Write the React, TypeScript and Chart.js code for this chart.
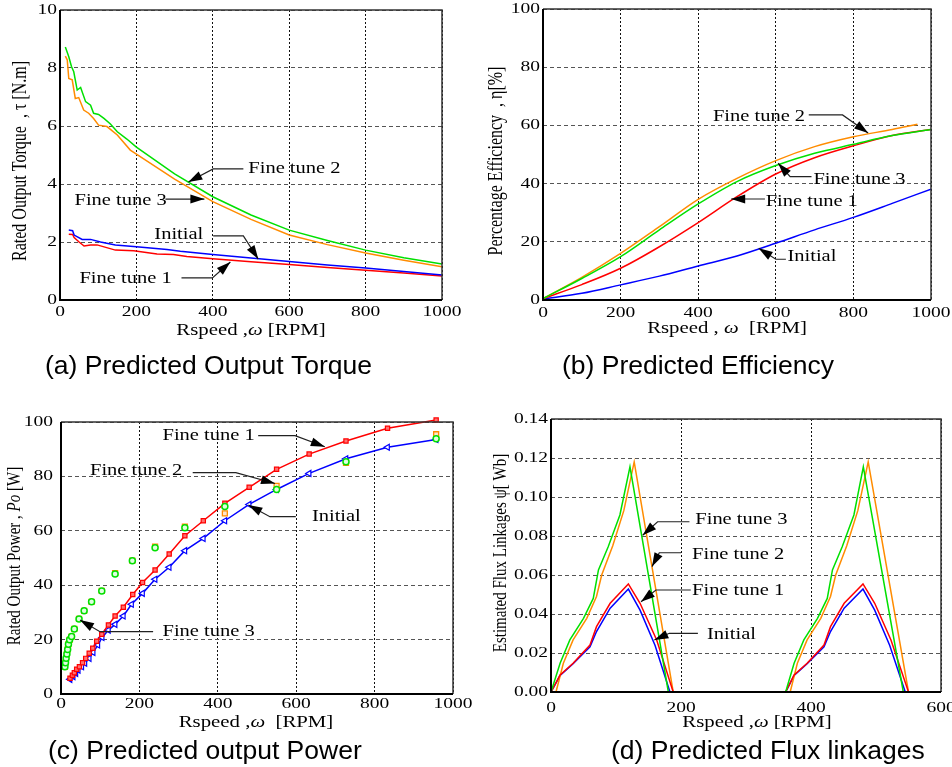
import React, { useEffect, useRef } from "react";
import { Chart, registerables } from "chart.js";
Chart.register(...registerables);

const SERIF = '"Liberation Serif", "Times New Roman", Times, serif';
const SANS = '"Liberation Sans", Arial, Helvetica, sans-serif';
const RED = "#ff0000";
const BLUE = "#0000ff";
const GREEN = "#00e000";
const ORANGE = "#ff8c00";

// ---------- (a) Predicted Output Torque ----------
const aSpeedFT2 = [14, 23, 30, 36, 45, 54, 67, 80, 88, 101, 115, 132, 150, 175, 200, 300, 400, 500, 600, 700, 800, 900, 1000];
const aTorqueFT2 = [8.72, 8.39, 8.05, 7.87, 7.24, 7.33, 6.84, 6.72, 6.44, 6.4, 6.26, 6.07, 5.8, 5.55, 5.27, 4.35, 3.56, 2.93, 2.41, 2.05, 1.72, 1.46, 1.24];
const aSpeedFT3 = [14, 19, 23, 32, 40, 49, 62, 75, 88, 101, 123, 150, 184, 200, 300, 400, 500, 600, 700, 800, 900, 1000];
const aTorqueFT3 = [8.41, 8.28, 7.64, 7.59, 6.95, 6.98, 6.55, 6.44, 6.26, 6.03, 5.98, 5.69, 5.17, 5.03, 4.17, 3.39, 2.78, 2.24, 1.91, 1.62, 1.37, 1.15];
const aSpeedInitial = [23, 33, 37, 58, 80, 106, 145, 200, 280, 315, 400, 500, 600, 700, 800, 900, 1000];
const aTorqueInitial = [2.41, 2.39, 2.24, 2.09, 2.09, 2.0, 1.9, 1.84, 1.74, 1.68, 1.57, 1.45, 1.33, 1.21, 1.1, 0.98, 0.86];
const aSpeedFT1 = [23, 33, 37, 50, 63, 80, 97, 145, 193, 254, 297, 332, 400, 500, 600, 700, 800, 900, 1000];
const aTorqueFT1 = [2.27, 2.26, 2.15, 2.0, 1.86, 1.9, 1.9, 1.72, 1.7, 1.59, 1.57, 1.5, 1.42, 1.32, 1.22, 1.12, 1.03, 0.93, 0.83];

// ---------- (b) Predicted Efficiency ----------
const bSpeed = [0, 100, 200, 300, 400, 500, 600, 700, 800, 900, 1000];
const bSpeedFT2 = [0, 100, 200, 300, 400, 500, 600, 700, 800, 900, 965];
const bEffFT2 = [0.5, 7.8, 16.0, 25.2, 34.6, 41.8, 47.9, 52.7, 56.1, 58.6, 60.4];
const bEffFT3 = [0.5, 7.4, 14.9, 24.1, 33.0, 40.7, 46.2, 50.4, 53.5, 56.5, 58.6];
const bEffFT1 = [0.5, 5.3, 10.9, 18.3, 26.6, 35.5, 43.3, 48.9, 53.0, 56.5, 58.6];
const bEffInitial = [0.3, 2.3, 5.2, 8.2, 11.7, 15.1, 19.5, 24.1, 28.4, 33.2, 38.1];

// ---------- (c) Predicted output Power ----------
const cSpeedFT1 = [23, 29, 34, 40, 47, 55, 63, 72, 81, 91, 104, 121, 138, 159, 183, 208, 240, 276, 316, 363, 418, 480, 550, 633, 727, 833, 957];
const cPowerFT1 = [5.8, 6.9, 7.8, 9.1, 10.0, 11.5, 13.1, 15.0, 16.8, 19.4, 22.0, 25.4, 28.7, 31.9, 36.6, 41.0, 45.6, 51.5, 58.2, 63.7, 70.1, 76.0, 82.6, 88.2, 93.0, 97.7, 100.7];
const cSpeedInitial = [23, 31, 38, 44, 53, 61, 72, 82, 94, 105, 121, 138, 159, 180, 208, 240, 276, 316, 363, 418, 480, 550, 633, 727, 833, 957];
const cPowerInitial = [5.4, 6.4, 7.6, 8.8, 10.0, 11.3, 13.1, 15.3, 18.0, 20.8, 23.5, 25.6, 28.7, 33.0, 37.0, 42.2, 46.6, 52.7, 57.2, 63.7, 69.7, 75.2, 81.1, 86.5, 90.7, 93.6];
const cSpeedTuned = [10, 11.5, 13, 15, 17, 19, 22, 27, 34, 46, 59, 78, 104, 138, 182, 240, 316, 418, 550, 727, 957];
const cPowerFT3 = [10.0, 11.5, 13.1, 14.7, 16.4, 18.3, 19.9, 21.1, 23.9, 27.6, 30.6, 33.9, 37.9, 44.1, 49.0, 53.8, 61.1, 68.9, 75.2, 85.4, 93.8];
const cPowerFT2 = [10.0, 11.5, 13.1, 14.7, 16.4, 18.3, 19.9, 21.1, 23.9, 27.6, 30.6, 33.9, 37.9, 44.4, 49.0, 54.2, 61.5, 66.4, 76.5, 85.0, 95.5];

// ---------- (d) Predicted Flux linkages ----------
const dSpeedFT3 = [0, 14, 29, 50, 65, 73, 88, 106, 121.5, 180.5, 361, 374, 389, 410, 425, 433, 448, 466, 480.5, 542, 600];
const dFluxFT3 = [0, 0.0147, 0.0267, 0.0378, 0.048, 0.0626, 0.0745, 0.0908, 0.1155, 0, 0, 0.0147, 0.0267, 0.0378, 0.048, 0.0626, 0.0745, 0.0908, 0.1155, 0, 0];
const dSpeedFT2 = [0, 7.7, 19, 34, 55, 70, 78, 95, 112, 128, 188, 368, 379, 394, 415, 430, 438, 455, 472, 488, 550, 605];
const dFluxFT2 = [0, 0, 0.0147, 0.0267, 0.0378, 0.049, 0.06, 0.075, 0.093, 0.118, 0, 0, 0.0147, 0.0267, 0.0378, 0.049, 0.06, 0.075, 0.093, 0.118, 0, 0];
const dSpeedFT1 = [0, 14, 34, 60, 70, 91, 119, 137, 162.6, 188, 361, 374, 394, 420, 430, 451, 480, 498, 523, 550, 600];
const dFluxFT1 = [0, 0.0087, 0.0147, 0.0241, 0.0335, 0.0455, 0.0554, 0.0455, 0.0267, 0, 0, 0.0087, 0.0147, 0.0241, 0.0335, 0.0455, 0.0554, 0.0455, 0.0267, 0, 0];
const dSpeedInitial = [0, 14, 34, 60, 70, 91, 119, 137, 160, 183, 361, 374, 394, 420, 430, 451, 480, 498, 521, 545, 600];
const dFluxInitial = [0, 0.0085, 0.0145, 0.0232, 0.031, 0.043, 0.0528, 0.042, 0.024, 0, 0, 0.0085, 0.0145, 0.0232, 0.031, 0.043, 0.0528, 0.042, 0.024, 0, 0];

type Seg = { t: string; i?: boolean };
type Anno = { text: string; tx: number; ty: number; path: number[][] };

const pts = (xs: number[], ys: number[]) => xs.map((x, i) => ({ x, y: ys[i] }));

const line = (label: string, data: any[], color: string, extra: any = {}) => ({
  label,
  data,
  borderColor: color,
  backgroundColor: color,
  borderWidth: 1.5,
  pointRadius: 0,
  showLine: true,
  fill: false,
  tension: 0,
  ...extra,
});

function drawSegs(
  ctx: CanvasRenderingContext2D,
  segs: Seg[],
  x: number,
  y: number,
  o: { size: number; family?: string; align?: string; baseline?: CanvasTextBaseline; sx?: number; rotate?: boolean }
) {
  const fam = o.family || SERIF;
  const fontOf = (s: Seg) => `${s.i ? "italic " : ""}${o.size}px ${fam}`;
  ctx.save();
  const widths = segs.map((s) => {
    ctx.font = fontOf(s);
    return ctx.measureText(s.t).width;
  });
  const total = widths.reduce((a, b) => a + b, 0);
  ctx.translate(x, y);
  if (o.rotate) {
    ctx.rotate(-Math.PI / 2);
    ctx.scale(1, o.sx ?? 1);
  } else {
    ctx.scale(o.sx ?? 1, 1);
  }
  let cx = o.align === "center" ? -total / 2 : o.align === "right" ? -total : 0;
  ctx.textAlign = "left";
  ctx.textBaseline = o.baseline || "alphabetic";
  ctx.fillStyle = "#000";
  segs.forEach((s, k) => {
    ctx.font = fontOf(s);
    ctx.fillText(s.t, cx, 0);
    cx += widths[k];
  });
  ctx.restore();
}

interface Panel {
  area: [number, number, number, number];
  xr: [number, number, number];
  yr: [number, number, number];
  yFmt: (v: number) => string;
  datasets: any[];
  xTitle: Seg[];
  xTitlePos: [number, number];
  yTitle: Seg[];
  yTitleSize: number;
  yTitlePos: [number, number];
  xTickBase: number;
  yTickRight: number;
  annos: Anno[];
  caption: string;
  capPos: [number, number];
}

const X_TITLE_A: Seg[] = [{ t: "Rspeed ," }, { t: "ω", i: true }, { t: " [RPM]" }];

const panels: Panel[] = [
  {
    area: [60, 10, 442, 300],
    xr: [0, 1000, 200],
    yr: [0, 10, 2],
    yFmt: (v) => String(Math.round(v)),
    datasets: [
      line("Fine tune 2", pts(aSpeedFT2, aTorqueFT2), GREEN),
      line("Fine tune 3", pts(aSpeedFT3, aTorqueFT3), ORANGE),
      line("Initial", pts(aSpeedInitial, aTorqueInitial), BLUE),
      line("Fine tune 1", pts(aSpeedFT1, aTorqueFT1), RED),
    ],
    xTitle: X_TITLE_A,
    xTitlePos: [251, 335],
    yTitle: [{ t: "Rated Output Torque  , τ [N.m]" }],
    yTitleSize: 16,
    yTitlePos: [21, 161],
    xTickBase: 316,
    yTickRight: 57,
    annos: [
      { text: "Fine tune 2", tx: 493, ty: 4.55, path: [[480, 4.52], [401, 4.52], [336, 4.07]] },
      { text: "Fine tune 3", tx: 38, ty: 3.45, path: [[276, 3.48], [378, 3.48]] },
      { text: "Initial", tx: 247, ty: 2.28, path: [[401, 2.21], [480, 2.21], [519, 1.41]] },
      { text: "Fine tune 1", tx: 51, ty: 0.76, path: [[318, 0.76], [399, 0.76], [446, 1.31]] },
    ],
    caption: "(a) Predicted Output Torque",
    capPos: [45, 374],
  },
  {
    area: [543, 9, 931, 300],
    xr: [0, 1000, 200],
    yr: [0, 100, 20],
    yFmt: (v) => String(Math.round(v)),
    datasets: [
      line("Fine tune 3", pts(bSpeed, bEffFT3), GREEN, { cubicInterpolationMode: "monotone" }),
      line("Fine tune 2", pts(bSpeedFT2, bEffFT2), ORANGE, { cubicInterpolationMode: "monotone" }),
      line("Fine tune 1", pts(bSpeed, bEffFT1), RED, { cubicInterpolationMode: "monotone" }),
      line("Initial", pts(bSpeed, bEffInitial), BLUE, { cubicInterpolationMode: "monotone" }),
    ],
    xTitle: [{ t: "Rspeed , " }, { t: "ω", i: true }, { t: "  [RPM]" }],
    xTitlePos: [727, 333],
    yTitle: [{ t: "Percentage Efficiency  , η[%]" }],
    yTitleSize: 16,
    yTitlePos: [497, 161],
    xTickBase: 317,
    yTickRight: 540,
    annos: [
      { text: "Fine tune 2", tx: 438, ty: 63.2, path: [[685, 63.6], [772, 63.6], [838, 57.4]] },
      { text: "Fine tune 3", tx: 697, ty: 41.5, path: [[692, 42.4], [637, 42.4], [606, 47]] },
      { text: "Fine tune 1", tx: 574, ty: 34.0, path: [[572, 34.7], [485, 34.7]] },
      { text: "Initial", tx: 630, ty: 15.1, path: [[626, 14], [600, 14], [556, 17.75]] },
    ],
    caption: "(b) Predicted Efficiency",
    capPos: [562, 374],
  },
  {
    area: [61, 422, 453, 694],
    xr: [0, 1000, 200],
    yr: [0, 100, 20],
    yFmt: (v) => String(Math.round(v)),
    datasets: [
      line("Fine tune 3", pts(cSpeedTuned, cPowerFT3), GREEN, {
        showLine: false, pointRadius: 3, pointStyle: "circle", pointBackgroundColor: "#dfffdf", pointBorderColor: GREEN, pointBorderWidth: 1.5, clip: 6,
      }),
      line("Fine tune 2", pts(cSpeedTuned, cPowerFT2), ORANGE, {
        showLine: false, pointRadius: 3.5, pointStyle: "rect", pointBackgroundColor: "#ffe6cc", pointBorderColor: ORANGE, pointBorderWidth: 1.3, clip: 6,
      }),
      line("Fine tune 1", pts(cSpeedFT1, cPowerFT1), RED, {
        pointRadius: 3, pointStyle: "rect", pointBackgroundColor: "#ff7070", pointBorderColor: RED, pointBorderWidth: 1.2, clip: 6,
      }),
      line("Initial", pts(cSpeedInitial, cPowerInitial), BLUE, {
        pointRadius: 3.5, pointStyle: "triangle", pointRotation: -90, pointBackgroundColor: "#ffffff", pointBorderColor: BLUE, pointBorderWidth: 1.2, clip: 6,
      }),
    ],
    xTitle: [{ t: "Rspeed ," }, { t: "ω", i: true }, { t: "  [RPM]" }],
    xTitlePos: [256, 727],
    yTitle: [{ t: "Rated Output Power , " }, { t: "Po", i: true }, { t: " [W]" }],
    yTitleSize: 15,
    yTitlePos: [15, 556],
    xTickBase: 708,
    yTickRight: 53,
    annos: [
      { text: "Fine tune 1", tx: 259, ty: 95.2, path: [[503, 95.0], [597, 95.0], [673, 90.9]] },
      { text: "Fine tune 2", tx: 74, ty: 82.4, path: [[336, 81.4], [446, 81.4], [546, 77.4]] },
      { text: "Initial", tx: 640, ty: 65.4, path: [[599, 65.2], [533, 65.2], [478, 69.5]] },
      { text: "Fine tune 3", tx: 259, ty: 23.3, path: [[235, 22.9], [99.5, 22.9], [48.5, 27.2]] },
    ],
    caption: "(c) Predicted output Power",
    capPos: [48, 759],
  },
  {
    area: [551, 419, 941, 692],
    xr: [0, 600, 200],
    yr: [0, 0.14, 0.02],
    yFmt: (v) => v.toFixed(2),
    datasets: [
      line("Fine tune 3", pts(dSpeedFT3, dFluxFT3), GREEN),
      line("Fine tune 1", pts(dSpeedFT1, dFluxFT1), RED),
      line("Fine tune 2", pts(dSpeedFT2, dFluxFT2), ORANGE),
      line("Initial", pts(dSpeedInitial, dFluxInitial), BLUE),
    ],
    xTitle: X_TITLE_A,
    xTitlePos: [757, 727],
    yTitle: [{ t: "Estimated Flux Linkages ψ[ Wb]" }],
    yTitleSize: 15,
    yTitlePos: [501, 553],
    xTickBase: 712,
    yTickRight: 548,
    annos: [
      { text: "Fine tune 3", tx: 222, ty: 0.0887, path: [[213, 0.0873], [164, 0.0873], [141, 0.0804]] },
      { text: "Fine tune 2", tx: 217, ty: 0.0711, path: [[200, 0.0714], [166.6, 0.0714], [155.4, 0.0643]] },
      { text: "Fine tune 1", tx: 217, ty: 0.0523, path: [[215, 0.0523], [161.5, 0.0523], [138.5, 0.0463]] },
      { text: "Initial", tx: 240, ty: 0.0301, path: [[226, 0.0301], [182, 0.0301], [159, 0.0267]] },
    ],
    caption: "(d) Predicted Flux linkages",
    capPos: [611, 759],
  },
];

function decorPlugin(p: Panel) {
  return {
    id: "decor",
    afterDraw(chart: any) {
      const ctx: CanvasRenderingContext2D = chart.ctx;
      const { left, top, right, bottom } = chart.chartArea;
      const xs = chart.scales.x;
      const ys = chart.scales.y;
      // frame
      ctx.save();
      ctx.strokeStyle = "#333";
      ctx.lineWidth = 1.5;
      ctx.beginPath();
      ctx.moveTo(left, top);
      ctx.lineTo(right, top);
      ctx.lineTo(right, bottom);
      ctx.stroke();
      ctx.strokeStyle = "#000";
      ctx.lineWidth = 2;
      ctx.beginPath();
      ctx.moveTo(left, top);
      ctx.lineTo(left, bottom);
      ctx.lineTo(right, bottom);
      ctx.stroke();
      ctx.restore();
      // tick labels
      xs.ticks.forEach((t: any) =>
        drawSegs(ctx, [{ t: String(Math.round(t.value)) }], xs.getPixelForValue(t.value), p.xTickBase, { size: 15, align: "center", sx: 1.3 })
      );
      ys.ticks.forEach((t: any) =>
        drawSegs(ctx, [{ t: p.yFmt(t.value) }], p.yTickRight, ys.getPixelForValue(t.value), { size: 15, align: "right", baseline: "middle", sx: 1.3 })
      );
      // axis titles
      drawSegs(ctx, p.xTitle, p.xTitlePos[0], p.xTitlePos[1], { size: 16, align: "center", sx: 1.3 });
      drawSegs(ctx, p.yTitle, p.yTitlePos[0], p.yTitlePos[1], { size: p.yTitleSize, align: "center", baseline: "middle", sx: 1.3, rotate: true });
      // annotations
      p.annos.forEach((a) => {
        const P = a.path.map(([vx, vy]) => [xs.getPixelForValue(vx), ys.getPixelForValue(vy)]);
        ctx.save();
        ctx.strokeStyle = "#222";
        ctx.lineWidth = 1.2;
        ctx.beginPath();
        P.forEach(([x, y], k) => (k ? ctx.lineTo(x, y) : ctx.moveTo(x, y)));
        ctx.stroke();
        const [x1, y1] = P[P.length - 2];
        const [x2, y2] = P[P.length - 1];
        const ang = Math.atan2(y2 - y1, x2 - x1);
        const L = 14;
        const Wd = 4.5;
        const bx = x2 - L * Math.cos(ang);
        const by = y2 - L * Math.sin(ang);
        ctx.fillStyle = "#000";
        ctx.beginPath();
        ctx.moveTo(x2, y2);
        ctx.lineTo(bx + Wd * Math.sin(ang), by - Wd * Math.cos(ang));
        ctx.lineTo(bx - Wd * Math.sin(ang), by + Wd * Math.cos(ang));
        ctx.closePath();
        ctx.fill();
        ctx.restore();
        drawSegs(ctx, [{ t: a.text }], xs.getPixelForValue(a.tx), ys.getPixelForValue(a.ty) + 1, { size: 16, baseline: "middle", sx: 1.28 });
      });
      // caption
      drawSegs(ctx, [{ t: p.caption }], p.capPos[0], p.capPos[1], { size: 26.5, family: SANS });
    },
  };
}

function buildConfig(p: Panel): any {
  const [l, t, r, b] = p.area;
  return {
    type: "scatter",
    data: { datasets: p.datasets },
    options: {
      animation: false,
      responsive: false,
      maintainAspectRatio: false,
      layout: { padding: { left: l, top: t, right: 952 - r, bottom: 767 - b } },
      plugins: { legend: { display: false }, tooltip: { enabled: false } },
      events: [],
      scales: {
        x: {
          type: "linear",
          min: p.xr[0],
          max: p.xr[1],
          ticks: { display: false, stepSize: p.xr[2] },
          grid: { color: "#111", lineWidth: 1, drawTicks: false },
          border: { display: false, dash: [2, 2] },
          title: { display: false },
          afterFit: (s: any) => {
            s.height = 0;
          },
        },
        y: {
          type: "linear",
          min: p.yr[0],
          max: p.yr[1],
          ticks: { display: false, stepSize: p.yr[2] },
          grid: { color: "#555", lineWidth: 1, drawTicks: false },
          border: { display: false, dash: [4, 3] },
          title: { display: false },
          afterFit: (s: any) => {
            s.width = 0;
          },
        },
      },
    },
    plugins: [decorPlugin(p)],
  };
}

export default function App() {
  const r0 = useRef<HTMLCanvasElement>(null);
  const r1 = useRef<HTMLCanvasElement>(null);
  const r2 = useRef<HTMLCanvasElement>(null);
  const r3 = useRef<HTMLCanvasElement>(null);
  const refs = [r0, r1, r2, r3];

  useEffect(() => {
    const charts = panels.map((p, i) => new Chart(refs[i].current as HTMLCanvasElement, buildConfig(p)));
    return () => charts.forEach((c) => c.destroy());
  }, []);

  return (
    <div style={{ position: "absolute", left: 0, top: 0, width: 952, height: 767, background: "#fff", overflow: "hidden" }}>
      {refs.map((r, i) => (
        <canvas key={i} ref={r} width={952} height={767} style={{ position: "absolute", left: 0, top: 0 }} />
      ))}
    </div>
  );
}
